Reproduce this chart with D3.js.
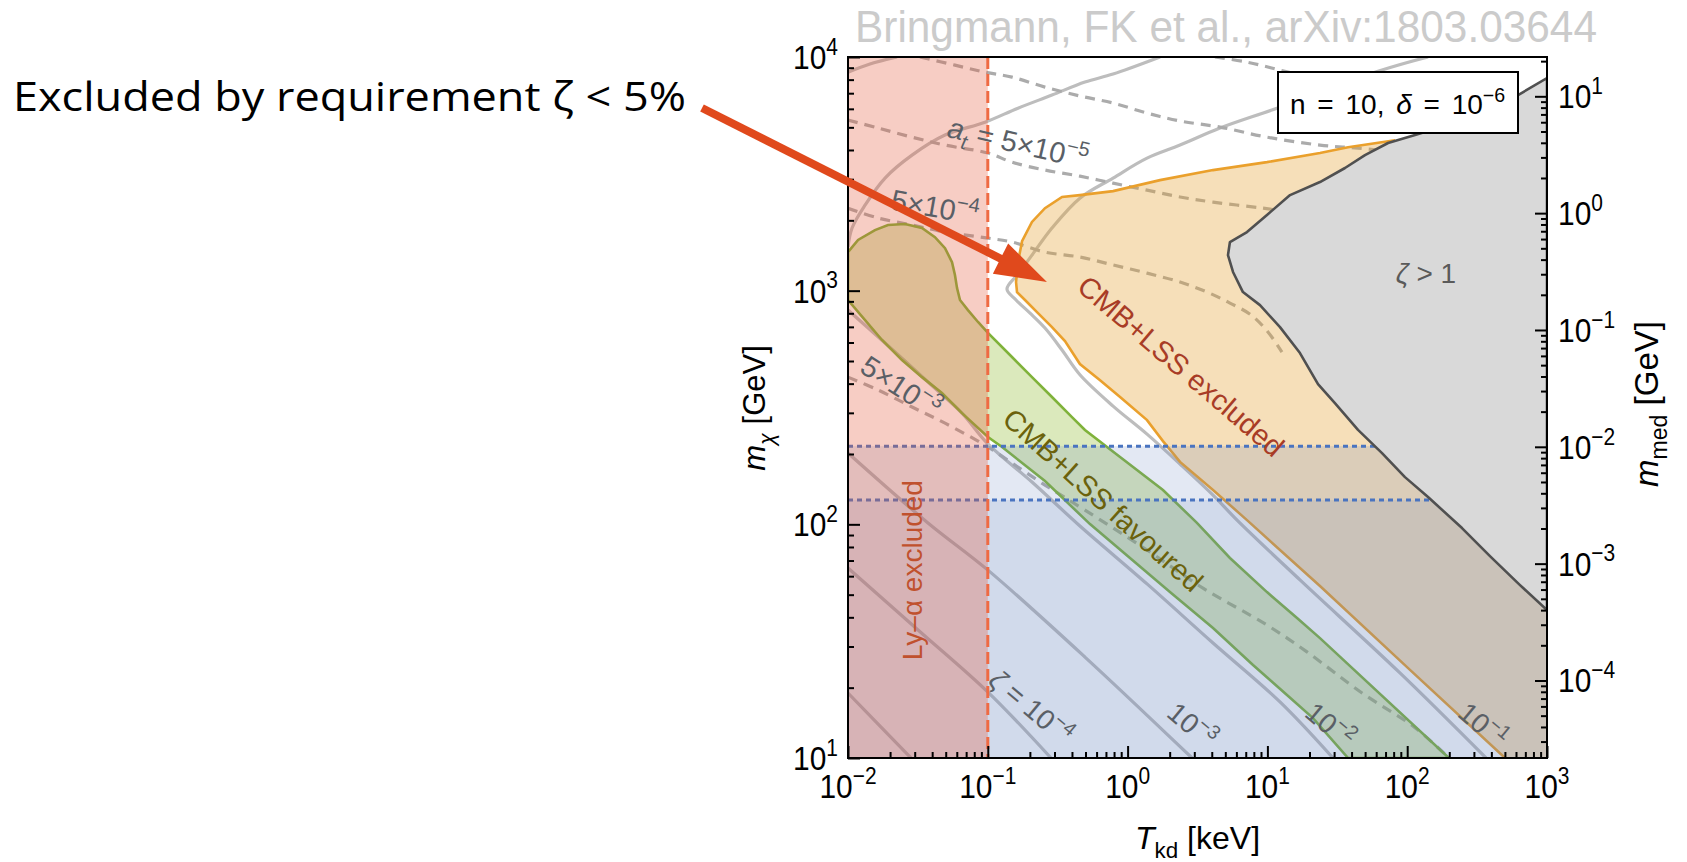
<!DOCTYPE html>
<html>
<head>
<meta charset="utf-8">
<script src="https://cdn.jsdelivr.net/npm/d3@7"></script>
<style>
  html, body { margin: 0; padding: 0; background: #fff; }
  svg { display: block; }
  text { font-family: "Liberation Sans", Arial, Helvetica, sans-serif; }
</style>
</head>
<body>
<svg id="chart" width="1687" height="862"></svg>
<script>
// ---------------------------------------------------------------------------
// Curves are given as [log10(T_kd / keV), log10(m_chi / GeV)] pairs.
// ---------------------------------------------------------------------------

// zeta > 1 region, boundary from the right edge (top) round to the right edge (bottom)
const zetaOver1 = [[3.000,3.910],[2.793,3.837],[2.578,3.773],[2.292,3.709],[2.056,3.666],[1.863,3.632],
  [1.698,3.580],[1.555,3.525],[1.376,3.465],[1.162,3.409],[0.997,3.324],[0.854,3.251],[0.732,3.208],
  [0.718,3.152],[0.754,3.080],[0.825,2.994],[0.947,2.938],[1.090,2.844],[1.233,2.733],[1.362,2.600],
  [1.483,2.519],[1.648,2.404],[1.820,2.305],[1.984,2.202],[2.149,2.117],[2.392,1.984],[2.592,1.864],
  [2.807,1.740],[3.000,1.633]];

// CMB+LSS excluded boundary (top right -> bottom)
const cmbExcluded = [[1.913,3.644],[1.577,3.614],[1.376,3.589],[0.997,3.550],[0.611,3.516],[0.232,3.473],
  [-0.104,3.426],[-0.341,3.409],[-0.469,3.401],[-0.591,3.353],[-0.684,3.294],[-0.755,3.212],[-0.784,3.122],
  [-0.798,3.037],[-0.791,2.994],[-0.734,2.960],[-0.641,2.904],[-0.541,2.844],[-0.448,2.784],[-0.341,2.686],
  [-0.197,2.617],[-0.054,2.545],[0.139,2.446],[0.253,2.356],[0.375,2.267],[0.611,2.147],[0.854,2.018],
  [1.376,1.736],[2.020,1.377],[2.700,1.000]];

// CMB+LSS favoured band: upper edge (left -> bottom), then lower edge (bottom -> left)
const cmbFavouredUpper = [[-2,3.165],[-1.928,3.217],[-1.807,3.259],[-1.714,3.281],[-1.592,3.285],[-1.471,3.268],
  [-1.378,3.229],[-1.306,3.182],[-1.256,3.122],[-1.235,3.067],[-1.220,3.011],[-1.199,2.960],[-1.142,2.917],
  [-1.070,2.866],[-0.999,2.819],[-0.827,2.716],[-0.684,2.630],[-0.541,2.545],[-0.398,2.459],[-0.305,2.404],
  [-0.054,2.288],[0.253,2.147],[0.496,2.006],[0.732,1.856],[0.997,1.710],[1.212,1.599],[1.376,1.513],[2.299,1.000]];
const cmbFavouredLower = [[1.577,1.000],[1.326,1.171],[1.140,1.270],[0.897,1.398],[0.611,1.556],[0.303,1.710],
  [0.017,1.856],[-0.269,2.001],[-0.591,2.185],[-0.898,2.331],[-0.999,2.374],[-1.185,2.476],[-1.328,2.562],
  [-1.471,2.630],[-1.614,2.703],[-1.757,2.789],[-1.878,2.874],[-2,2.960]];

// zeta contours (solid grey)
const zeta1e5 = [[-2,1.278],[-1.571,1.013],[-1.549,1.0]];
const zeta1e4 = [[-2,1.813],[-1.499,1.548],[-0.999,1.282],[-0.548,1.0]];
const zeta1e3 = [[-2,2.305],[-1.428,2.006],[-0.999,1.804],[-0.305,1.432],[0.461,1.0]];
const zeta1e3Upper = [[-2,3.935],[-1.843,3.970],[-1.650,4.0]];
const zeta1e2Upper = [[-2,3.187],[-1.971,3.268],[-1.878,3.366],[-1.735,3.482],[-1.542,3.580],[-1.306,3.666],
  [-1.020,3.721],[-0.784,3.781],[-0.541,3.837],[-0.305,3.893],[-0.104,3.927],[0.232,4.0]];
const zeta1e2 = [[-2,2.917],[-1.735,2.776],[-1.428,2.609],[-1.185,2.476],[-0.999,2.344],[-0.684,2.181],
  [-0.341,1.993],[0.139,1.745],[0.611,1.492],[1.090,1.240],[1.469,1.0]];
const zeta1e1 = [[2.149,4.0],[1.820,3.944],[1.069,3.781],[0.661,3.696],[0.375,3.623],[0.139,3.567],
  [-0.104,3.482],[-0.341,3.396],[-0.541,3.268],[-0.684,3.152],[-0.784,3.071],[-0.863,3.007],[-0.798,2.960],
  [-0.698,2.904],[-0.591,2.840],[-0.469,2.746],[-0.341,2.640],[-0.104,2.506],[0.139,2.386],[0.375,2.258],
  [0.611,2.125],[0.783,2.018],[1.233,1.762],[1.948,1.364],[2.564,1.0]];

// a_t contours (dashed grey)
const atTop = [[0.625,4.0],[0.854,3.978],[1.090,3.944],[1.376,3.901]];
const at1e5 = [[-1.485,4.0],[-1.235,3.965],[-1.020,3.935],[-0.827,3.914],[-0.591,3.871],[-0.341,3.833],
  [-0.104,3.803],[0.139,3.760],[0.375,3.726],[0.661,3.700],[0.997,3.657],[1.376,3.623],[1.648,3.610],[1.948,3.593]];
const at5e5 = [[-2,3.730],[-1.785,3.696],[-1.542,3.657],[-1.306,3.623],[-0.999,3.589],[-0.827,3.550],
  [-0.591,3.516],[-0.341,3.490],[-0.104,3.460],[0.139,3.430],[0.375,3.401],[0.611,3.379],[0.969,3.353],[1.162,3.336]];
const at5e4 = [[-2,3.353],[-1.785,3.311],[-1.542,3.281],[-1.306,3.251],[-0.999,3.225],[-0.827,3.208],
  [-0.591,3.165],[-0.341,3.144],[-0.104,3.110],[0.139,3.075],[0.375,3.037],[0.568,2.994],[0.732,2.947],
  [0.883,2.896],[1.004,2.823],[1.104,2.737]];
const at5e3 = [[-2,2.630],[-1.785,2.575],[-1.542,2.502],[-1.306,2.433],[-0.999,2.331],[-0.827,2.262],
  [-0.591,2.168],[-0.305,2.061],[0.139,1.890],[0.539,1.727],[0.997,1.569],[1.283,1.454],[1.677,1.278],
  [2.049,1.133],[2.299,1.0]];

// Lyman-alpha bound on T_kd (keV) and the two m_chi levels (GeV) of the blue bands
const lyaT = 0.1;
const mBandEdges = [216, 127];

// m_med axis range (GeV), m_med scaling as m_chi^2
const medDomain = [2.17e-5, 21.7];

// tick labels (decade exponents)
const tickExpT = [-2, -1, 0, 1, 2, 3];
const tickExpM = [1, 2, 3, 4];
const tickExpMed = [-4, -3, -2, -1, 0, 1];

// arrow tip of the annotation, [log10 T, log10 m]
const arrowTip = [-0.577, 3.037];

// ---------------------------------------------------------------------------
const svg = d3.select("#chart");
const plot = { l: 848, r: 1547, t: 57, b: 758 };

const x = d3.scaleLog().domain([1e-2, 1e3]).range([plot.l, plot.r]);
const y = d3.scaleLog().domain([10, 1e4]).range([plot.b, plot.t]);
const yMed = d3.scaleLog().domain(medDomain).range([plot.b, plot.t]);

const px = d => x(10 ** d[0]);
const py = d => y(10 ** d[1]);
const line = d3.line().x(px).y(py);
const smooth = d3.line().x(px).y(py).curve(d3.curveCatmullRom.alpha(0.5));

svg.append("defs").append("clipPath").attr("id", "plotClip")
  .append("rect").attr("x", plot.l).attr("y", plot.t)
  .attr("width", plot.r - plot.l).attr("height", plot.b - plot.t);

const gp = svg.append("g").attr("clip-path", "url(#plotClip)");

// solid zeta contours
[zeta1e5, zeta1e4, zeta1e3, zeta1e3Upper, zeta1e2Upper, zeta1e2, zeta1e1].forEach(c => {
  gp.append("path").attr("d", smooth(c)).attr("fill", "none")
    .attr("stroke", "#bdbdbd").attr("stroke-width", 3.2);
});

// dashed a_t contours
[atTop, at1e5, at5e5, at5e4, at5e3].forEach(c => {
  gp.append("path").attr("d", smooth(c)).attr("fill", "none")
    .attr("stroke", "#ababab").attr("stroke-width", 3.2).attr("stroke-dasharray", "10,7");
});

// CMB+LSS excluded region
const excludedPoly = cmbExcluded.concat([[3, 1], [3, cmbExcluded[0][1]]]);
gp.append("path").attr("d", line(excludedPoly) + "Z")
  .attr("fill", "rgb(230,160,50)").attr("fill-opacity", 0.34);

// CMB+LSS favoured band
const favouredPoly = cmbFavouredUpper.concat(cmbFavouredLower);
gp.append("path").attr("d", line(favouredPoly) + "Z")
  .attr("fill", "rgb(150,190,60)").attr("fill-opacity", 0.34);

gp.append("path").attr("d", line(cmbExcluded)).attr("fill", "none")
  .attr("stroke", "#eaa02c").attr("stroke-width", 2.6);
gp.append("path").attr("d", line(favouredPoly) + "Z").attr("fill", "none")
  .attr("stroke", "#7fb23a").attr("stroke-width", 2.6);

// blue bands below the two m_chi levels
gp.append("rect").attr("x", plot.l).attr("width", plot.r - plot.l)
  .attr("y", y(mBandEdges[0])).attr("height", plot.b - y(mBandEdges[0]))
  .attr("fill", "rgb(100,130,190)").attr("fill-opacity", 0.18);
gp.append("rect").attr("x", plot.l).attr("width", plot.r - plot.l)
  .attr("y", y(mBandEdges[1])).attr("height", plot.b - y(mBandEdges[1]))
  .attr("fill", "rgb(100,130,190)").attr("fill-opacity", 0.134);
mBandEdges.forEach(m => {
  gp.append("line").attr("x1", plot.l).attr("x2", plot.r).attr("y1", y(m)).attr("y2", y(m))
    .attr("stroke", "#4a74c0").attr("stroke-width", 3).attr("stroke-dasharray", "5,4");
});

// zeta > 1 region
gp.append("path").attr("d", line(zetaOver1) + "Z")
  .attr("fill", "#d9d9d9").attr("stroke", "#505050").attr("stroke-width", 2.6)
  .attr("stroke-linejoin", "round");

// Lyman-alpha excluded strip
gp.append("rect").attr("x", x(1e-2)).attr("width", x(lyaT) - x(1e-2))
  .attr("y", plot.t).attr("height", plot.b - plot.t)
  .attr("fill", "rgb(230,90,60)").attr("fill-opacity", 0.3);
gp.append("line").attr("x1", x(lyaT)).attr("x2", x(lyaT)).attr("y1", plot.t).attr("y2", plot.b)
  .attr("stroke", "#ef6a43").attr("stroke-width", 3).attr("stroke-dasharray", "12,5");

// ---------------------------------------------------------------------------
// text helpers
function rich(sel, parts, fs) {
  let shift = 0;
  parts.forEach(([t, s]) => {
    s = s || "";
    let target = 0, size = fs;
    if (s.startsWith("sub")) { target = 0.28 * fs; size = 0.7 * fs; }
    if (s.startsWith("sup")) { target = -0.42 * fs; size = 0.7 * fs; }
    const sp = sel.append("tspan").text(t).attr("dy", (target - shift).toFixed(2))
      .style("font-size", size + "px");
    if (s === "i" || s.endsWith("i")) sp.style("font-style", "italic");
    shift = target;
  });
}
function placed(at, angle, fs, fill, parts) {
  const g = svg.append("g")
    .attr("transform", `translate(${px(at)},${py(at)}) rotate(${angle})`);
  const t = g.append("text").attr("x", 0).attr("y", 0.35 * fs)
    .attr("text-anchor", "middle").attr("fill", fill).style("font-size", fs + "px");
  rich(t, parts, fs);
}

const contourInk = "#5a5f66";
placed([-0.784, 3.632], 13, 29, contourInk, [["a", "i"], ["t", "subi"], [" = 5×10"], ["−5", "sup"]]);
placed([-1.378, 3.358], 10, 29, contourInk, [["5×10"], ["−4", "sup"]]);
placed([-1.621, 2.588], 33, 29, contourInk, [["5×10"], ["−3", "sup"]]);
placed([-0.691, 1.218], 40, 28, contourInk, [["ζ", "i"], [" = 10"], ["−4", "sup"]]);
placed([0.461, 1.141], 40, 28, contourInk, [["10"], ["−3", "sup"]]);
placed([1.448, 1.141], 40, 28, contourInk, [["10"], ["−2", "sup"]]);
placed([2.542, 1.141], 40, 28, contourInk, [["10"], ["−1", "sup"]]);
placed([2.134, 3.075], 0, 28, "#5a5a5a", [["ζ", "i"], [" > 1"]]);

placed([0.382, 2.677], 40.5, 29, "#a83c26", [["CMB+LSS excluded"]]);
placed([-0.176, 2.104], 42, 29, "#6b620c", [["CMB+LSS favoured"]]);
placed([-1.542, 1.804], -90, 28, "#c0512e", [["Ly–α excluded"]]);

// parameter box
svg.append("rect").attr("x", 1278).attr("y", 72).attr("width", 240).attr("height", 61)
  .attr("fill", "#fff").attr("stroke", "#000").attr("stroke-width", 2);
{
  const t = svg.append("text").attr("x", 1290).attr("y", 114).attr("fill", "#000")
    .style("font-size", "28px").style("word-spacing", "4px");
  rich(t, [["n = 10, "], ["δ", "i"], [" = 10"], ["−6", "sup"]], 28);
}

// ---------------------------------------------------------------------------
// axes
function minors(lo, hi) {
  const out = [];
  for (let k = Math.floor(lo); k < hi; k++)
    for (let j = 2; j <= 9; j++) {
      const v = j * 10 ** k, lv = Math.log10(v);
      if (lv >= lo && lv <= hi) out.push(v);
    }
  return out;
}
function styleAxis(g) {
  g.select(".domain").remove();
  g.selectAll(".tick line").attr("stroke", "#000").attr("stroke-width", 2);
  g.selectAll(".tick text").remove();
}
const axes = svg.append("g");
axes.append("g").attr("transform", `translate(0,${plot.b})`)
  .call(d3.axisBottom(x).tickValues(tickExpT.map(e => 10 ** e)).tickSize(-12).tickFormat("")).call(styleAxis);
axes.append("g").attr("transform", `translate(0,${plot.b})`)
  .call(d3.axisBottom(x).tickValues(minors(-2, 3)).tickSize(-6).tickFormat("")).call(styleAxis);
axes.append("g").attr("transform", `translate(${plot.l},0)`)
  .call(d3.axisLeft(y).tickValues(tickExpM.map(e => 10 ** e)).tickSize(-12).tickFormat("")).call(styleAxis);
axes.append("g").attr("transform", `translate(${plot.l},0)`)
  .call(d3.axisLeft(y).tickValues(minors(1, 4)).tickSize(-6).tickFormat("")).call(styleAxis);
const lmLo = Math.log10(medDomain[0]), lmHi = Math.log10(medDomain[1]);
axes.append("g").attr("transform", `translate(${plot.r},0)`)
  .call(d3.axisRight(yMed).tickValues(tickExpMed.map(e => 10 ** e)).tickSize(-12).tickFormat("")).call(styleAxis);
axes.append("g").attr("transform", `translate(${plot.r},0)`)
  .call(d3.axisRight(yMed).tickValues(minors(lmLo, lmHi)).tickSize(-6).tickFormat("")).call(styleAxis);

svg.append("rect").attr("x", plot.l).attr("y", plot.t)
  .attr("width", plot.r - plot.l).attr("height", plot.b - plot.t)
  .attr("fill", "none").attr("stroke", "#000").attr("stroke-width", 2);

// tick labels, set slightly condensed
function powLabel(xp, yp, e, anchor) {
  const t = svg.append("g").attr("transform", `translate(${xp},${yp}) scale(0.88,1)`)
    .append("text").attr("x", 0).attr("y", 0).attr("text-anchor", anchor)
    .attr("fill", "#000").style("font-size", "34px");
  rich(t, [["10"], [e < 0 ? "−" + (-e) : String(e), "sup"]], 34);
}
tickExpT.forEach(e => powLabel(x(10 ** e), 798, e, "middle"));
tickExpM.forEach(e => powLabel(838, y(10 ** e) + 12, e, "end"));
tickExpMed.forEach(e => powLabel(1558, yMed(10 ** e) + 12, e, "start"));

// axis titles
{
  const t = svg.append("text").attr("x", 1135).attr("y", 849).attr("fill", "#000").style("font-size", "32px");
  rich(t, [["T", "i"], ["kd", "sub"], [" [keV]"]], 32);
}
{
  const g = svg.append("g").attr("transform", "translate(765,408) rotate(-90)");
  const t = g.append("text").attr("text-anchor", "middle").attr("fill", "#000").style("font-size", "31px");
  rich(t, [["m", "i"], ["χ", "subi"], [" [GeV]"]], 31);
}
{
  const g = svg.append("g").attr("transform", "translate(1658,404) rotate(-90)");
  const t = g.append("text").attr("text-anchor", "middle").attr("fill", "#000").style("font-size", "33px");
  rich(t, [["m", "i"], ["med", "sub"], [" [GeV]"]], 33);
}

// reference line
svg.append("text").attr("x", 855).attr("y", 42).attr("fill", "#cbcbcb")
  .style("font-size", "44px").attr("textLength", 742).attr("lengthAdjust", "spacingAndGlyphs")
  .text("Bringmann, FK et al., arXiv:1803.03644");

// annotation and arrow
svg.append("text").attr("x", 13).attr("y", 111).attr("fill", "#000")
  .style("font-family", "'Open Sans', 'Noto Sans', sans-serif").style("font-size", "41px")
  .attr("textLength", 673).attr("lengthAdjust", "spacingAndGlyphs")
  .text("Excluded by requirement ζ < 5%");

{
  const tail = [702, 108];
  const tip = [px(arrowTip), py(arrowTip)];
  const dx = tip[0] - tail[0], dy = tip[1] - tail[1], L = Math.hypot(dx, dy);
  const ux = dx / L, uy = dy / L;
  const headLen = 52, headHalf = 17;
  const base = [tip[0] - ux * headLen, tip[1] - uy * headLen];
  const ink = "#e0491c";
  svg.append("line").attr("x1", tail[0]).attr("y1", tail[1])
    .attr("x2", base[0] + ux * 4).attr("y2", base[1] + uy * 4)
    .attr("stroke", ink).attr("stroke-width", 8);
  svg.append("path")
    .attr("d", `M${tip[0]},${tip[1]}L${base[0] - uy * headHalf},${base[1] + ux * headHalf}` +
      `L${base[0] + uy * headHalf},${base[1] - ux * headHalf}Z`)
    .attr("fill", ink);
}
</script>
</body>
</html>
